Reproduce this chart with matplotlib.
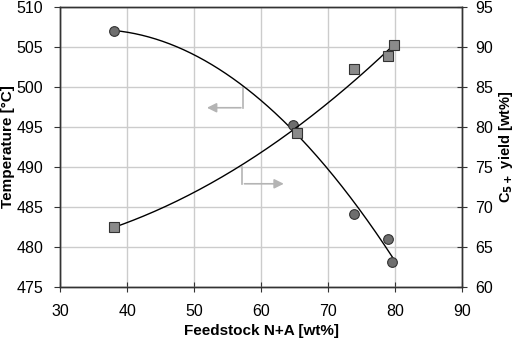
import numpy as np
import matplotlib.pyplot as plt

plt.rcParams['font.family'] = ['Liberation Sans', 'DejaVu Sans']

# temperature series (left axis)
temp_x = [38.0, 64.8, 73.9, 79.0, 79.6]
temp_y = [507.0, 495.2, 484.1, 481.0, 478.1]

# C5+ yield series (right axis)
yield_x = [38.0, 65.4, 73.9, 79.0, 79.8]
yield_y = [67.5, 79.3, 87.2, 88.9, 90.2]

fig = plt.figure(figsize=(5.14, 3.45), dpi=100)
ax = fig.add_axes([0.117, 0.168, 0.782, 0.812])
ax2 = ax.twinx()

# 2nd order trendlines
xs = np.linspace(min(temp_x), max(temp_x), 200)
pt = np.polyfit(temp_x, temp_y, 2)
ax.plot(xs, np.polyval(pt, xs), color='k', lw=1.0, zorder=3)
xs2 = np.linspace(min(yield_x), max(yield_x), 200)
py = np.polyfit(yield_x, yield_y, 2)
ax2.plot(xs2, np.polyval(py, xs2), color='k', lw=1.0, zorder=3)

ax.plot(temp_x, temp_y, 'o', ms=7, mfc='#6e6e6e', mec='#333333', mew=0.8, zorder=4)
ax2.plot(yield_x, yield_y, 's', ms=7, mfc='#8a8a8a', mec='#333333', mew=0.8, zorder=4)

# gray arrows pointing to the axes
gc = '#b4b4b4'
ax.plot([57.3, 57.3], [500, 497.4], color=gc, lw=1.2)
ax.annotate('', xy=(51.5, 497.4), xytext=(57.4, 497.4),
            arrowprops=dict(arrowstyle='-|>', color=gc, lw=1.2, mutation_scale=14))
ax.plot([57.2, 57.2], [490, 487.9], color=gc, lw=1.2)
ax.annotate('', xy=(63.8, 487.9), xytext=(57.1, 487.9),
            arrowprops=dict(arrowstyle='-|>', color=gc, lw=1.2, mutation_scale=14))

ax.set_xlim(30, 90)
ax.set_ylim(475, 510)
ax2.set_ylim(60, 95)
ax.set_xticks(np.arange(30, 91, 10))
ax.set_yticks(np.arange(475, 511, 5))
ax2.set_yticks(np.arange(60, 96, 5))

ax.grid(True, color='#cccccc', lw=1.0)
ax.set_axisbelow(True)

for a in (ax, ax2):
    for s in a.spines.values():
        s.set_color('#333333')
        s.set_linewidth(1.0)
ax.tick_params(axis='y', direction='out', length=4, color='#333333', labelsize=11.5, pad=8)
ax.tick_params(axis='x', direction='inout', length=7, color='#333333', labelsize=11.5, pad=9)
ax2.tick_params(axis='y', direction='inout', length=7, color='#333333', labelsize=11.5, pad=6)

ax.set_xlabel('Feedstock N+A [wt%]', fontsize=11, fontweight='bold', labelpad=3)
ax.set_ylabel('Temperature [°C]', fontsize=11, fontweight='bold')
ax.yaxis.set_label_coords(-0.113, 0.5)
ax2.set_ylabel(r'C$_{\mathbf{5+}}$ yield [wt%]', fontsize=10.5, fontweight='bold')
ax2.yaxis.set_label_coords(1.086, 0.5)

plt.savefig('out.png', dpi=100)
